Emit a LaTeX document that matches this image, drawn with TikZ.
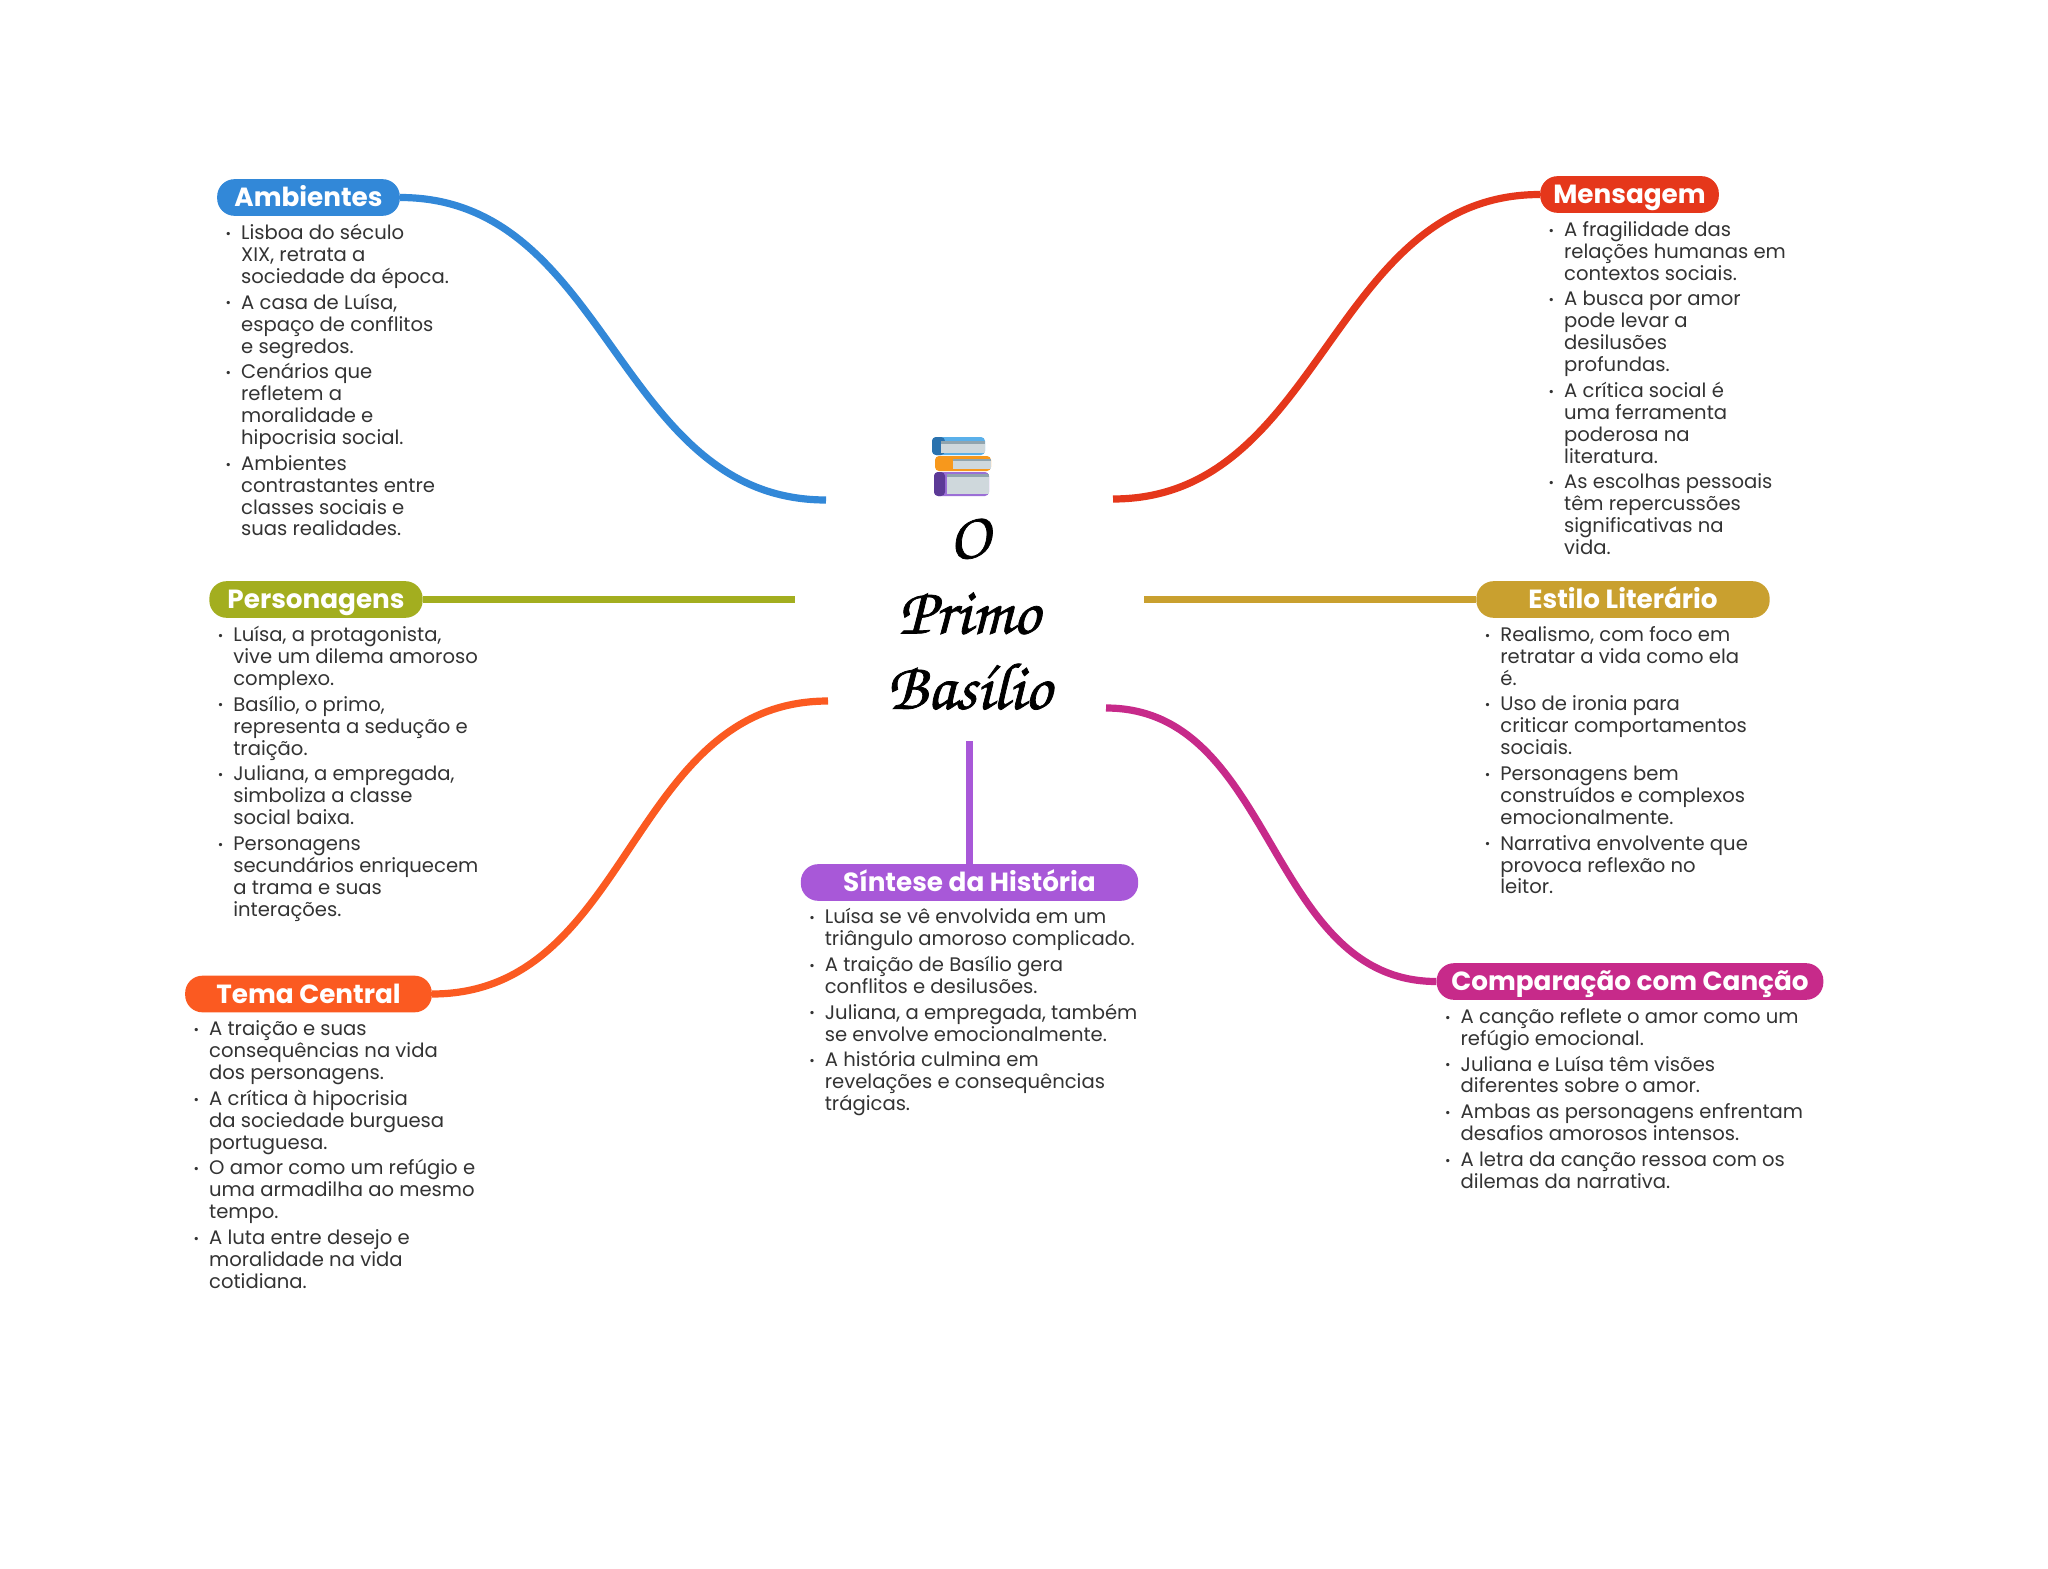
\documentclass[tikz,border=0pt]{standalone}
\usepackage[T1]{fontenc}
\usepackage{fontspec}
\setmainfont{Poppins}
\usetikzlibrary{positioning}
\definecolor{mambient}{HTML}{3288D8}
\definecolor{mmessage}{HTML}{E5371B}
\definecolor{mperson}{HTML}{A3AE1F}
\definecolor{mstyle}{HTML}{C9A02F}
\definecolor{mtheme}{HTML}{FB5A21}
\definecolor{mcompare}{HTML}{C72A8A}
\definecolor{msummary}{HTML}{A858D8}
\definecolor{mnote}{HTML}{333333}
\definecolor{mpage}{HTML}{CFD8DC}
\definecolor{mstrip}{HTML}{90A4AE}
\definecolor{mbookblue}{HTML}{5AB0EA}
\definecolor{mspineblue}{HTML}{2A72AE}
\definecolor{mbookorange}{HTML}{F7981C}
\definecolor{mbookpurple}{HTML}{9B6FD6}
\definecolor{mspinepurple}{HTML}{5C3A96}
\newcommand{\bitem}{\makebox[0pt][r]{{\fontsize{10}{10}\selectfont\raisebox{1pt}{\textbullet}}\hspace{7.5pt}}}
\newcommand{\heavy}[1]{\special{pdf:code 2 Tr 0.55 w}#1\special{pdf:code 0 Tr}}
\tikzstyle{topic} = [rectangle, rounded corners=13pt, minimum height=27.5pt, inner sep=0pt, text height=15.8pt, text depth=2pt, text=white, font=\fontsize{19.7}{19.7}\selectfont\bfseries]
\tikzstyle{notes} = [inner sep=0pt, align=left, text=mnote, font=\fontsize{14.7}{16.4}\selectfont]
\tikzstyle{branch} = [line width=5.4pt]
\tikzstyle{title} = [inner sep=0pt, align=center, text=black, font=\fontencoding{T1}\fontfamily{pzc}\fontseries{mb}\fontshape{it}\fontsize{50}{56.5}\selectfont]
\begin{document}
\begin{tikzpicture}[x=0.75pt,y=-0.75pt]
  \useasboundingbox (0,0) rectangle (2048,1569);
  % centre
  \node (centre) [title] at (969,613.5) {\heavy{O}\\\heavy{Primo}\\\heavy{Bas\'{\i}lio}};
  \fill[rounded corners=3pt,color=mbookblue] (932,437) rectangle (985,455);
  \fill[rounded corners=3pt,color=mspineblue] (932,437) rectangle (945,455);
  \fill[color=mpage] (941,441) rectangle (985,453);
  \fill[color=mstrip] (941,441) rectangle (985,444);
  \fill[rounded corners=3pt,color=mbookorange] (935,456) rectangle (991,471);
  \fill[color=mpage] (953,458.5) rectangle (991,469);
  \fill[color=mstrip] (953,458.5) rectangle (991,461);
  \fill[rounded corners=3pt,color=mbookpurple] (934,472) rectangle (989,496);
  \fill[rounded corners=3pt,color=mspinepurple] (934,472) rectangle (945,496);
  \fill[color=mpage] (947,474) rectangle (989,494);
  \fill[color=mstrip] (947,474) rectangle (989,477);
  % topics
  \node (ambientes) [topic, fill=mambient, minimum width=137pt] at (308.5,197.5) {Ambientes};
  \node (mensagem) [topic, fill=mmessage, minimum width=134pt] at (1629.5,194.5) {Mensagem};
  \node (personagens) [topic, fill=mperson, minimum width=160pt] at (316,599.5) {Personagens};
  \node (estilo) [topic, fill=mstyle, minimum width=220pt] at (1623,599.5) {Estilo Literário};
  \node (tema) [topic, fill=mtheme, minimum width=185pt] at (308.5,994) {Tema Central};
  \node (comparacao) [topic, fill=mcompare, minimum width=290pt] at (1630,981.5) {Comparação com Canção};
  \node (sintese) [topic, fill=msummary, minimum width=253pt] at (969.5,882.5) {Síntese da História};
  % notes
  \node (ambientesTxt) [notes, below right=6pt and 18pt of ambientes.south west] {\bitem Lisboa do século\\XIX, retrata a\\sociedade da época.\\[3pt]
    \bitem A casa de Luísa,\\espaço de conflitos\\e segredos.\\[3pt]
    \bitem Cenários que\\refletem a\\moralidade e\\hipocrisia social.\\[3pt]
    \bitem Ambientes\\contrastantes entre\\classes sociais e\\suas realidades.};
  \node (mensagemTxt) [notes, below right=6pt and 18pt of mensagem.south west] {\bitem A fragilidade das\\relações humanas em\\contextos sociais.\\[3pt]
    \bitem A busca por amor\\pode levar a\\desilusões\\profundas.\\[3pt]
    \bitem A crítica social é\\uma ferramenta\\poderosa na\\literatura.\\[3pt]
    \bitem As escolhas pessoais\\têm repercussões\\significativas na\\vida.};
  \node (personagensTxt) [notes, below right=6pt and 18pt of personagens.south west] {\bitem Luísa, a protagonista,\\vive um dilema amoroso\\complexo.\\[3pt]
    \bitem Basílio, o primo,\\representa a sedução e\\traição.\\[3pt]
    \bitem Juliana, a empregada,\\simboliza a classe\\social baixa.\\[3pt]
    \bitem Personagens\\secundários enriquecem\\a trama e suas\\interações.};
  \node (estiloTxt) [notes, below right=6pt and 18pt of estilo.south west] {\bitem Realismo, com foco em\\retratar a vida como ela\\é.\\[3pt]
    \bitem Uso de ironia para\\criticar comportamentos\\sociais.\\[3pt]
    \bitem Personagens bem\\construídos e complexos\\emocionalmente.\\[3pt]
    \bitem Narrativa envolvente que\\provoca reflexão no\\leitor.};
  \node (temaTxt) [notes, below right=6pt and 18pt of tema.south west] {\bitem A traição e suas\\consequências na vida\\dos personagens.\\[3pt]
    \bitem A crítica à hipocrisia\\da sociedade burguesa\\portuguesa.\\[3pt]
    \bitem O amor como um refúgio e\\uma armadilha ao mesmo\\tempo.\\[3pt]
    \bitem A luta entre desejo e\\moralidade na vida\\cotidiana.};
  \node (comparacaoTxt) [notes, below right=6pt and 18pt of comparacao.south west] {\bitem A canção reflete o amor como um\\refúgio emocional.\\[3pt]
    \bitem Juliana e Luísa têm visões\\diferentes sobre o amor.\\[3pt]
    \bitem Ambas as personagens enfrentam\\desafios amorosos intensos.\\[3pt]
    \bitem A letra da canção ressoa com os\\dilemas da narrativa.};
  \node (sinteseTxt) [notes, below right=5.3pt and 18pt of sintese.south west] {\bitem Luísa se vê envolvida em um\\triângulo amoroso complicado.\\[3pt]
    \bitem A traição de Basílio gera\\conflitos e desilusões.\\[3pt]
    \bitem Juliana, a empregada, também\\se envolve emocionalmente.\\[3pt]
    \bitem A história culmina em\\revelações e consequências\\trágicas.};
  % branch ends near the centre
  \coordinate (endAmb) at (826,500);
  \coordinate (endMsg) at (1113,499);
  \coordinate (endPer) at (795,599.5);
  \coordinate (endEst) at (1144,599.5);
  \coordinate (endTem) at (828,701);
  \coordinate (endCmp) at (1106,708);
  \coordinate (endSin) at (969.5,741);
  \draw [branch, mambient] (ambientes.east) .. controls +(210,0) and +(-210,0) .. (endAmb);
  \draw [branch, mmessage] (mensagem.west) .. controls +(-210,0) and +(210,0) .. (endMsg);
  \draw [branch, mperson] (personagens.east) -- (endPer);
  \draw [branch, mstyle] (estilo.west) -- (endEst);
  \draw [branch, mtheme] (tema.east) .. controls +(200,0) and +(-200,0) .. (endTem);
  \draw [branch, mcompare] (comparacao.west) .. controls +(-170,0) and +(170,0) .. (endCmp);
  \draw [branch, msummary] (sintese.north) -- (endSin);
\end{tikzpicture}
\end{document}
